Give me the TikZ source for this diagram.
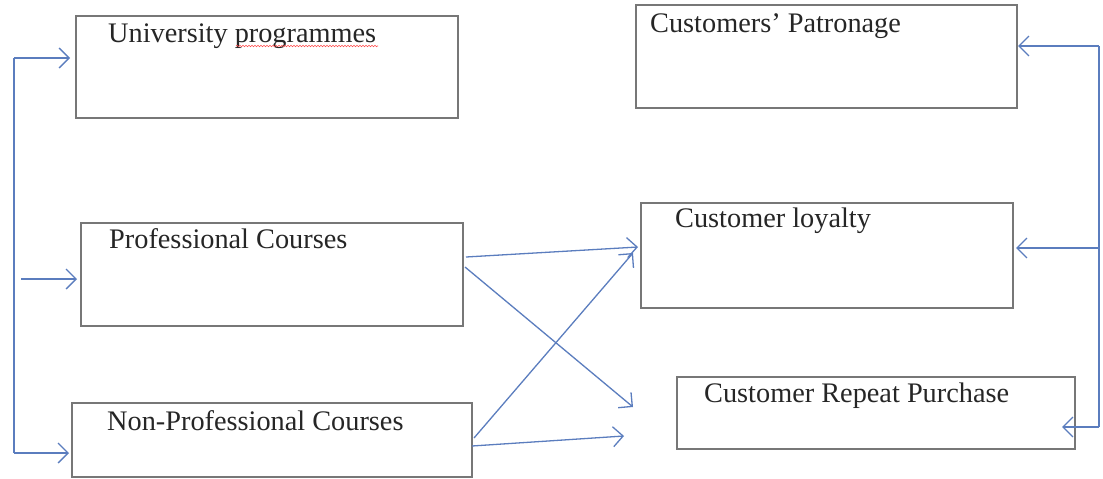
\documentclass[tikz,border=0pt]{standalone}
\usepackage{fontspec}
\setmainfont{Liberation Serif}
\usetikzlibrary{arrows.meta,decorations.pathmorphing}
\definecolor{arrowblue}{HTML}{5B7DBE}
\definecolor{boxgray}{HTML}{777777}
\definecolor{textgray}{HTML}{262626}
\begin{document}
\begin{tikzpicture}[x=1pt,y=-1pt,
  box/.style={draw=boxgray, line width=1.4pt, inner sep=0pt, outer sep=0pt, anchor=north west, fill=white},
  lbl/.style={anchor=base west, inner sep=0pt, text=textgray, font=\fontsize{28.3}{32}\selectfont},
  link/.style={draw=arrowblue, line width=1.3pt},
  arr/.style={link, -{Straight Barb[length=10pt,width=20pt]}}]
\useasboundingbox (0,0) rectangle (1103,479);
% boxes
\node[box, minimum width=382pt, minimum height=102pt] (uni) at (76,16) {};
\node[box, minimum width=381pt, minimum height=103pt] (pat) at (636,5) {};
\node[box, minimum width=382pt, minimum height=103pt] (prof) at (81,223) {};
\node[box, minimum width=372pt, minimum height=105pt] (loy) at (641,203) {};
\node[box, minimum width=400pt, minimum height=74pt] (nonp) at (72,403) {};
\node[box, minimum width=398pt, minimum height=72pt] (rep) at (677,377) {};
% texts
\node[lbl] (tuni) at (108,42) {University programmes};
\node[lbl] (tpat) at (650,32) {Customers’ Patronage};
\node[lbl] (tprof) at (109,248) {Professional Courses};
\node[lbl] (tloy) at (675,227) {Customer loyalty};
\node[lbl] (tnonp) at (107,430) {Non-Professional Courses};
\node[lbl] (trep) at (704,402) {Customer Repeat Purchase};
% spell-check underline
\coordinate (w1) at (236,46);
\coordinate (w2) at (378,46);
\draw[red!70, line width=0.6pt, decorate, decoration={snake, amplitude=0.7pt, segment length=3pt}] (w1) -- (w2);
% left bracket
\coordinate (L1) at (14,58);
\coordinate (L3) at (14,453);
\coordinate (uniT) at (70,58);
\coordinate (nonpT) at (69,453);
\coordinate (M0) at (21,279);
\coordinate (profT) at (77,279);
\draw[link] (L1) -- (L3);
\draw[arr] (L1) -- (uniT);
\draw[arr] (L3) -- (nonpT);
\draw[arr] (M0) -- (profT);
% right bracket
\coordinate (R1) at (1099,46);
\coordinate (R2) at (1099,248);
\coordinate (R3) at (1099,427);
\coordinate (patT) at (1018,46);
\coordinate (loyT) at (1016,248);
\coordinate (repT) at (1062,427);
\draw[link] (R1) -- (R3);
\draw[arr] (R1) -- (patT);
\draw[arr] (R2) -- (loyT);
\draw[arr] (R3) -- (repT);
% cross arrows
\coordinate (p1) at (466,257);
\coordinate (p2) at (465,267);
\coordinate (n1) at (474,438);
\coordinate (n2) at (472,446);
\coordinate (loyA) at (638,247);
\coordinate (loyB) at (633,253);
\coordinate (repA) at (633,407);
\coordinate (repB) at (624,436);
\draw[arr] (p1) -- (loyA);
\draw[arr] (p2) -- (repA);
\draw[arr] (n1) -- (loyB);
\draw[arr] (n2) -- (repB);
\end{tikzpicture}
\end{document}
